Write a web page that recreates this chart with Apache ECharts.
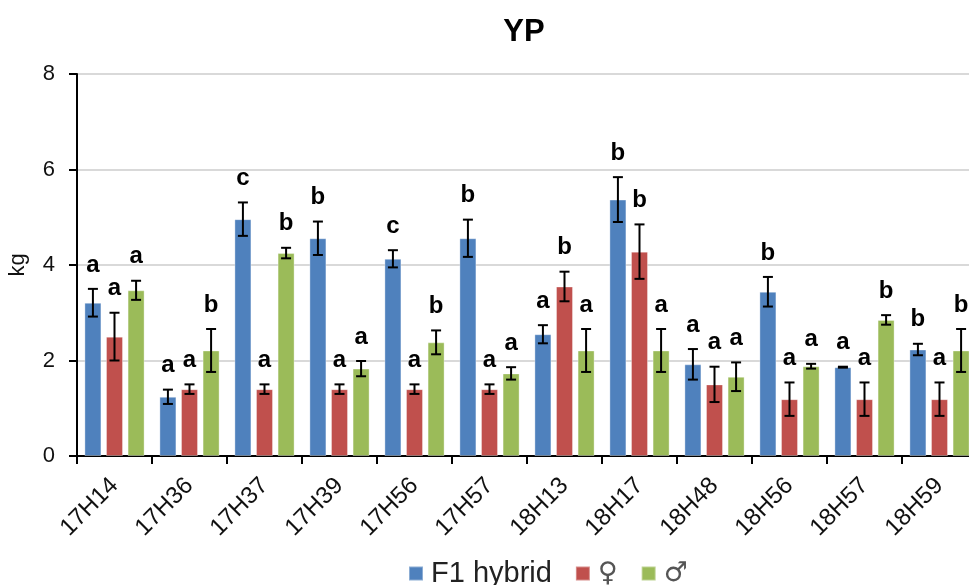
<!DOCTYPE html>
<html>
<head>
<meta charset="utf-8">
<script src="https://cdn.jsdelivr.net/npm/echarts@6/dist/echarts.min.js"></script>
<style>
  html, body { margin: 0; padding: 0; background: #fff; }
  #chart { width: 969px; height: 585px; }
</style>
</head>
<body>
<div id="chart"></div>
<script>
// Yield per plant (kg) of F1 hybrids and their female / male parents
const categories = ['17H14', '17H36', '17H37', '17H39', '17H56', '17H57', '18H13', '18H17', '18H48', '18H56', '18H57', '18H59'];
const seriesNames = ['F1 hybrid', '♀', '♂'];

const hybrid = [3.21, 1.24, 4.96, 4.56, 4.13, 4.56, 2.55, 5.37, 1.92, 3.44, 1.86, 2.23];
const female = [2.50, 1.40, 1.40, 1.40, 1.40, 1.40, 3.55, 4.28, 1.50, 1.19, 1.19, 1.19];
const male   = [3.47, 2.21, 4.25, 1.83, 2.38, 1.73, 2.21, 2.21, 1.66, 1.88, 2.85, 2.21];

const hybridErr = [0.29, 0.15, 0.35, 0.35, 0.18, 0.39, 0.19, 0.47, 0.32, 0.31, 0.01, 0.12];
const femaleErr = [0.50, 0.10, 0.10, 0.10, 0.10, 0.10, 0.31, 0.57, 0.37, 0.35, 0.35, 0.35];
const maleErr   = [0.20, 0.45, 0.11, 0.16, 0.25, 0.13, 0.45, 0.45, 0.30, 0.05, 0.10, 0.45];

const hybridLetters = ['a', 'a', 'c', 'b', 'c', 'b', 'a', 'b', 'a', 'b', 'a', 'b'];
const femaleLetters = ['a', 'a', 'a', 'a', 'a', 'a', 'b', 'b', 'a', 'a', 'a', 'a'];
const maleLetters   = ['a', 'b', 'b', 'a', 'b', 'a', 'a', 'a', 'a', 'a', 'b', 'b'];

const yTicks = [0, 2, 4, 6, 8];

const colors = ['#4F81BD', '#C0504D', '#9BBB59'];
const FONT = 'Arial, "Liberation Sans", sans-serif';
const BAR_W = 17;
const BAR_GAP = 0.27;

const values = [hybrid, female, male];
const errors = [hybridErr, femaleErr, maleErr];
const letters = [hybridLetters, femaleLetters, maleLetters];

// error bars + significance letters for one series
function errorSeries(k) {
  const rows = categories.map((c, i) => [i, values[k][i], errors[k][i], letters[k][i]]);
  return {
    type: 'custom',
    name: seriesNames[k] + ' err',
    data: rows,
    z: 10,
    silent: true,
    renderItem: function (params, api) {
      const i = api.value(0);
      const v = api.value(1);
      const e = api.value(2);
      const shift = (k - 1) * BAR_W * (1 + BAR_GAP);
      const base = api.coord([i, v]);
      const x = base[0] + shift;
      const top = api.coord([i, v + e])[1];
      const bot = api.coord([i, v - e])[1];
      const cap = 5;
      const style = { stroke: '#000', lineWidth: 2 };
      return {
        type: 'group',
        children: [
          { type: 'line', shape: { x1: x, y1: top, x2: x, y2: bot }, style: style },
          { type: 'line', shape: { x1: x - cap, y1: top, x2: x + cap, y2: top }, style: style },
          { type: 'line', shape: { x1: x - cap, y1: bot, x2: x + cap, y2: bot }, style: style },
          {
            type: 'text',
            x: x, y: top - 12,
            style: {
              text: rows[params.dataIndex][3],
              fill: '#000',
              font: 'bold 24px ' + FONT,
              textAlign: 'center',
              textVerticalAlign: 'bottom'
            }
          }
        ]
      };
    }
  };
}

const chart = echarts.init(document.getElementById('chart'), null, { renderer: 'canvas' });

const barSeries = seriesNames.map((name, k) => ({
  type: 'bar',
  name: name,
  data: values[k],
  barWidth: BAR_W,
  barGap: (BAR_GAP * 100) + '%',
  itemStyle: { color: colors[k], borderColor: 'rgba(255,255,255,0.35)', borderWidth: 1 }
}));

chart.setOption({
  animation: false,
  backgroundColor: '#fff',
  title: {
    text: 'YP',
    left: 519,
    top: 12,
    textAlign: 'center',
    textStyle: { fontFamily: FONT, fontWeight: 'bold', fontSize: 31, color: '#000' }
  },
  legend: {
    data: seriesNames,
    left: 403,
    top: 554,
    icon: 'rect',
    itemWidth: 14,
    itemHeight: 14,
    itemGap: 23,
    formatter: function (name) {
      return name === 'F1 hybrid' ? name : '{sym|' + name + '}';
    },
    textStyle: {
      fontFamily: FONT, fontSize: 29, color: '#222', padding: [0, 0, 0, 3],
      rich: { sym: { fontFamily: '"DejaVu Sans", sans-serif', fontSize: 27, color: '#555' } }
    }
  },
  grid: { left: 77, top: 74, width: 900, bottom: 129, containLabel: false, outerBoundsMode: 'none' },
  xAxis: {
    type: 'category',
    data: categories,
    axisLine: { lineStyle: { color: '#000', width: 2 } },
    axisTick: { show: true, length: 8, lineStyle: { color: '#000', width: 2 } },
    axisLabel: { rotate: 45, margin: 26, fontFamily: FONT, fontSize: 24, color: '#111', interval: 0 }
  },
  yAxis: {
    type: 'value',
    min: yTicks[0],
    max: yTicks[yTicks.length - 1],
    interval: 2,
    name: 'kg',
    nameLocation: 'middle',
    nameGap: 48,
    nameTextStyle: { fontFamily: FONT, fontSize: 22, color: '#111' },
    axisLine: { show: true, lineStyle: { color: '#000', width: 2 } },
    axisTick: { show: true, length: 8, lineStyle: { color: '#000', width: 2 } },
    axisLabel: { margin: 22, fontFamily: FONT, fontSize: 22, color: '#111' },
    splitLine: { lineStyle: { color: '#D9D9D9', width: 2 } }
  },
  series: barSeries.concat([errorSeries(0), errorSeries(1), errorSeries(2)])
});
</script>
</body>
</html>
